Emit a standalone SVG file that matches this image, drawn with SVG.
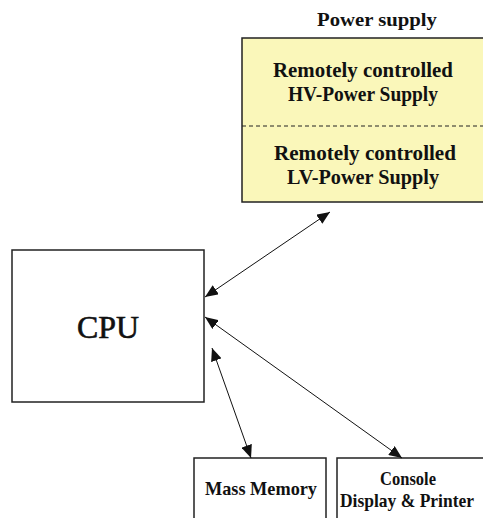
<svg xmlns="http://www.w3.org/2000/svg" width="483" height="518" viewBox="0 0 483 518">
<style>
.box{fill:#fff;stroke:#222;stroke-width:1.5}
.t{font-family:"Liberation Serif","Times New Roman",serif;font-weight:bold;fill:#111;text-anchor:middle}
.c{stroke:#111;stroke-width:1;fill:none;marker-start:url(#ah);marker-end:url(#ah)}
</style>
<defs>
<marker id="ah" viewBox="0 0 13 11" refX="13" refY="5.5" markerWidth="13" markerHeight="11" markerUnits="userSpaceOnUse" orient="auto-start-reverse">
<path d="M0,0 L13,5.5 L0,11 Z" fill="#111"/>
</marker>
</defs>
<rect width="483" height="518" fill="#fff"/>
<g id="power">
<text class="t" x="377" y="26" font-size="18.5" textLength="120" lengthAdjust="spacingAndGlyphs">Power supply</text>
<rect x="242" y="38" width="250" height="164" fill="#FAF7BA" stroke="#222" stroke-width="1.5"/>
<line x1="242" y1="126" x2="483" y2="126" stroke="#222" stroke-width="1" stroke-dasharray="4,3"/>
<text class="t" x="363" y="77" font-size="20.5" textLength="180" lengthAdjust="spacingAndGlyphs">Remotely controlled</text>
<text class="t" x="363" y="101" font-size="20.5" textLength="150" lengthAdjust="spacingAndGlyphs">HV-Power Supply</text>
<text class="t" x="365" y="160" font-size="20.5" textLength="182" lengthAdjust="spacingAndGlyphs">Remotely controlled</text>
<text class="t" x="363" y="184" font-size="20.5" textLength="152" lengthAdjust="spacingAndGlyphs">LV-Power Supply</text>
</g>
<g id="cpu">
<rect class="box" x="12" y="250" width="192" height="152"/>
<text class="t" x="108" y="338" font-size="31" textLength="62" lengthAdjust="spacingAndGlyphs" style="font-weight:normal;stroke:#111;stroke-width:0.6">CPU</text>
</g>
<g id="mass">
<rect class="box" x="194" y="458" width="132" height="70"/>
<text class="t" x="261" y="495" font-size="19.5" textLength="112" lengthAdjust="spacingAndGlyphs">Mass Memory</text>
</g>
<g id="console">
<rect class="box" x="337" y="458" width="160" height="70"/>
<text class="t" x="408" y="485" font-size="19" textLength="56" lengthAdjust="spacingAndGlyphs">Console</text>
<text class="t" x="407" y="507" font-size="19" textLength="134" lengthAdjust="spacingAndGlyphs">Display &amp; Printer</text>
</g>
<g id="connectors">
<line class="c" x1="205" y1="297" x2="330" y2="212"/>
<line class="c" x1="205" y1="317" x2="402" y2="458"/>
<line class="c" x1="212" y1="348" x2="251" y2="458"/>
</g>
</svg>
